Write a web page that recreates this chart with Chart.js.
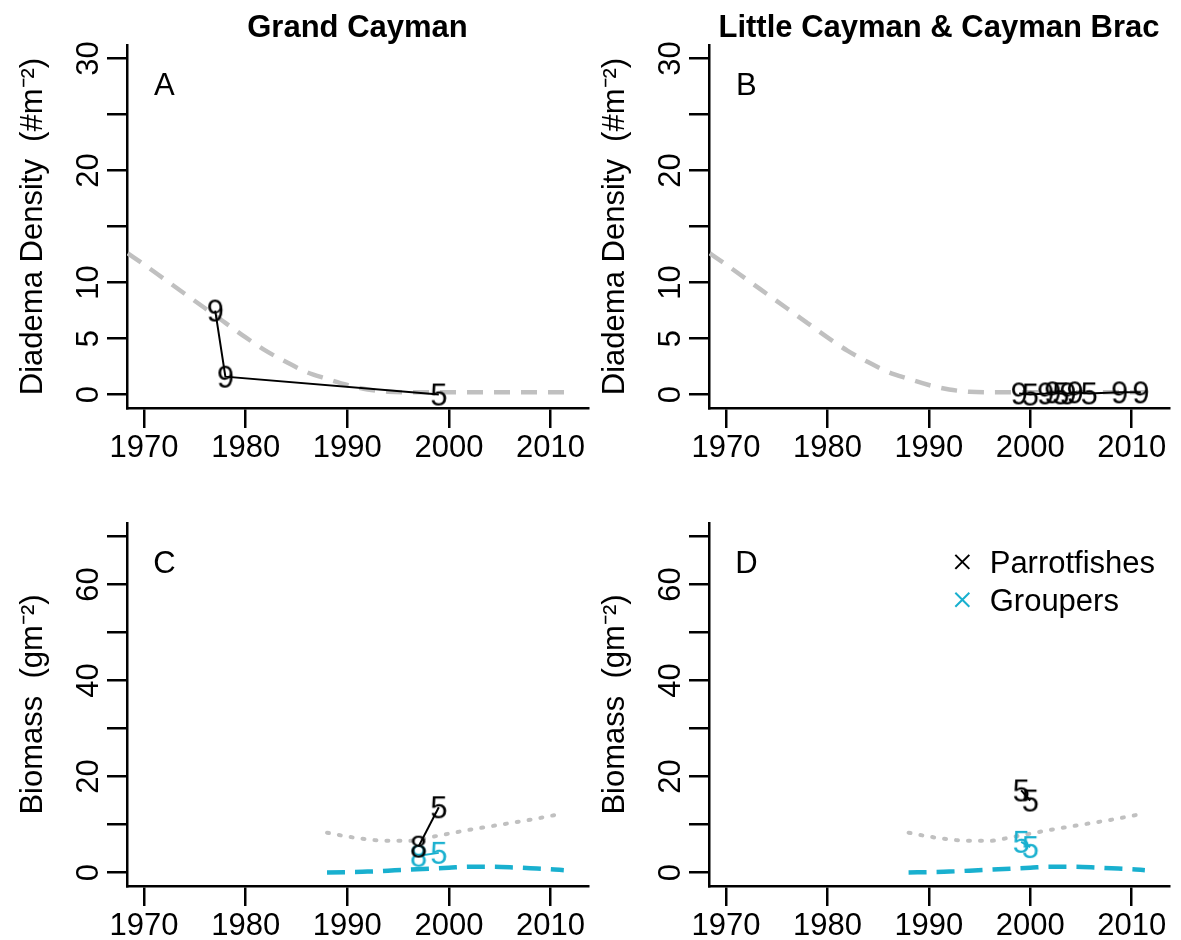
<!DOCTYPE html>
<html>
<head>
<meta charset="utf-8">
<title>Diadema density and fish biomass, Cayman Islands</title>
<script src="https://cdn.jsdelivr.net/npm/chart.js@4.4.1/dist/chart.umd.min.js"></script>
<style>
    body { margin: 0; background: #fff; }
    #figure { position: relative; width: 1181px; height: 940px; overflow: hidden; }
    #figure canvas { position: absolute; }
</style>
</head>
<body>
<div id="figure">
    <canvas id="panelA" width="600" height="478" style="left:0;top:0"></canvas>
    <canvas id="panelB" width="599" height="478" style="left:582px;top:0"></canvas>
    <canvas id="panelC" width="600" height="462" style="left:0;top:478px"></canvas>
    <canvas id="panelD" width="599" height="462" style="left:582px;top:478px"></canvas>
</div>
<script>
(function() {
    'use strict';

    // axes
    var yearLimits = [1970, 2012];
    var yearTicks = [1970, 1980, 1990, 2000, 2010];

    var densityLimits = [0, 30];
    var densityTicks = [0, 5, 10, 15, 20, 25, 30];
    var densityTickLabels = ['0', '5', '10', '', '20', '', '30'];

    var biomassLimits = [0, 70];
    var biomassTicks = [0, 10, 20, 30, 40, 50, 60, 70];
    var biomassTickLabels = ['0', '', '20', '', '40', '', '60', ''];

    // Diadema surveys (labels = number of sites)
    var gcDiademaYears = [1977, 1978, 1999];
    var gcDiademaDensity = [7.5, 1.6, 0.0];
    var gcDiademaSites = ['9', '9', '5'];

    var lcDiademaYears = [1998.9, 2000.0, 2001.5, 2002.2, 2003.0, 2003.7, 2004.4, 2005.8, 2008.8, 2010.9];
    var lcDiademaDensity = [0.1, 0.0, 0.1, 0.2, 0.1, 0.1, 0.2, 0.1, 0.2, 0.2];
    var lcDiademaSites = ['9', '5', '9', '9', '5', '9', '9', '5', '9', '9'];

    // fitted Diadema trend
    var diademaFitYears = [1968.4, 1970, 1972, 1974, 1976, 1978, 1980, 1982, 1984, 1986, 1988, 1990, 1992, 1994, 1996, 2012];
    var diademaFit = [12.6, 11.6, 10.3, 9.0, 7.7, 6.4, 5.1, 3.9, 2.9, 2.0, 1.4, 0.85, 0.45, 0.25, 0.2, 0.2];

    // fish biomass surveys
    var gcParrotYears = [1997, 1999];
    var gcParrotBiomass = [5.4, 13.6];
    var gcParrotSites = ['8', '5'];
    var gcGrouperYears = [1997, 1999];
    var gcGrouperBiomass = [3.5, 4.1];
    var gcGrouperSites = ['8', '5'];

    var lcParrotYears = [1999.1, 2000.0];
    var lcParrotBiomass = [17.1, 15.0];
    var lcParrotSites = ['5', '5'];
    var lcGrouperYears = [1999.1, 2000.0];
    var lcGrouperBiomass = [6.4, 5.3];
    var lcGrouperSites = ['5', '5'];

    // fitted biomass trends
    var parrotFitYears = [1988, 1990, 1992, 1994, 1996, 1998, 2000, 2002, 2004, 2006, 2008, 2010, 2011];
    var parrotFit = [8.3, 7.5, 6.9, 6.6, 6.6, 7.3, 8.1, 8.9, 9.6, 10.3, 11.0, 11.8, 12.2];
    var grouperFitYears = [1988, 1990, 1992, 1994, 1996, 1998, 2000, 2002, 2004, 2006, 2008, 2010, 2011.3];
    var grouperFit = [0.0, 0.1, 0.2, 0.4, 0.6, 0.8, 1.0, 1.2, 1.2, 1.1, 0.9, 0.7, 0.5];

    var FAMILY = '"Liberation Sans", Arial, Helvetica, sans-serif';
    var FONT_SIZE = 31;
    var CYAN = '#19b0cf';
    var GREY = '#c0c0c0';

    Chart.defaults.font.family = FAMILY;
    Chart.defaults.color = '#000';

    // plot region inside every canvas
    var AREA = { left: 127, top: 45, right: 596, bottom: 408 };

    function expand(lim) {
        var pad = (lim[1] - lim[0]) * 0.04;
        return [lim[0] - pad, lim[1] + pad];
    }

    function points(xs, ys) {
        return xs.map(function(x, i) { return { x: x, y: ys[i] }; });
    }

    // digits used as plotting symbols
    var glyphCache = {};
    function glyph(text, color) {
        var key = text + color;
        if (glyphCache[key]) return glyphCache[key];
        var c = document.createElement('canvas');
        c.width = 40;
        c.height = 40;
        var g = c.getContext('2d');
        g.font = FONT_SIZE + 'px ' + FAMILY;
        g.fillStyle = color;
        g.textAlign = 'center';
        g.textBaseline = 'alphabetic';
        g.fillText(text, 20, 20 + 0.358 * FONT_SIZE);
        glyphCache[key] = c;
        return c;
    }

    function surveySeries(xs, ys, labels, color, order) {
        return {
            data: points(xs, ys),
            borderColor: color,
            borderWidth: 2,
            pointStyle: labels.map(function(t) { return glyph(t, color); }),
            pointRadius: 12,
            pointBorderWidth: 0,
            tension: 0,
            order: order
        };
    }

    function trendSeries(xs, ys, color, dash, width, order) {
        return {
            data: points(xs, ys),
            borderColor: color,
            borderWidth: width,
            borderDash: dash,
            borderCapStyle: dash[0] < 5 ? 'round' : 'butt',
            pointRadius: 0,
            cubicInterpolationMode: 'monotone',
            order: order
        };
    }

    // panel letter and (optionally) the legend
    var panelNotes = {
        id: 'panelNotes',
        afterDatasetsDraw: function(chart, args, opts) {
            var ctx = chart.ctx;
            var xs = chart.scales.x;
            var ys = chart.scales.y;
            var capShift = 0.358 * FONT_SIZE;
            ctx.save();
            ctx.font = FONT_SIZE + 'px ' + FAMILY;
            ctx.textBaseline = 'alphabetic';
            ctx.fillStyle = '#000';
            ctx.textAlign = 'center';
            ctx.fillText(opts.letter, xs.getPixelForValue(1972), ys.getPixelForValue(opts.top * 0.925) + capShift);

            (opts.legend || []).forEach(function(item, i) {
                var cx = xs.getPixelForValue(1993.3);
                var cy = ys.getPixelForValue(64.7 - i * 7.9);
                ctx.strokeStyle = item.color;
                ctx.lineWidth = 2;
                ctx.beginPath();
                ctx.moveTo(cx - 7, cy - 7);
                ctx.lineTo(cx + 7, cy + 7);
                ctx.moveTo(cx + 7, cy - 7);
                ctx.lineTo(cx - 7, cy + 7);
                ctx.stroke();
                ctx.fillStyle = '#000';
                ctx.textAlign = 'left';
                ctx.fillText(item.label, xs.getPixelForValue(1996.0), cy + capShift);
            });
            ctx.restore();
        }
    };

    function buildPanel(id, spec) {
        var canvas = document.getElementById(id);
        var xr = expand(yearLimits);
        var yr = expand(spec.limits);

        return new Chart(canvas, {
            type: 'line',
            data: { datasets: spec.datasets },
            options: {
                responsive: false,
                animation: false,
                events: [],
                layout: {
                    padding: {
                        top: spec.title ? 0 : AREA.top,
                        right: canvas.width - AREA.right,
                        left: 0,
                        bottom: 0
                    }
                },
                plugins: {
                    legend: { display: false },
                    tooltip: { enabled: false },
                    title: {
                        display: !!spec.title,
                        text: spec.title || '',
                        fullSize: false,
                        color: '#000',
                        font: { size: FONT_SIZE, weight: 'bold', lineHeight: 1 },
                        padding: { top: 13, bottom: 1 }
                    },
                    panelNotes: { letter: spec.letter, top: spec.limits[1], legend: spec.legend }
                },
                scales: {
                    x: {
                        type: 'linear',
                        min: xr[0],
                        max: xr[1],
                        afterBuildTicks: function(axis) {
                            axis.ticks = yearTicks.map(function(v) { return { value: v }; });
                        },
                        afterFit: function(axis) {
                            axis.height = canvas.height - AREA.bottom;
                        },
                        border: { display: true, color: '#000', width: 2.5 },
                        grid: { drawOnChartArea: false, drawTicks: true, tickLength: 20, color: '#000', lineWidth: 2.5 },
                        ticks: {
                            autoSkip: false,
                            maxRotation: 0,
                            padding: 2,
                            color: '#000',
                            font: { size: FONT_SIZE },
                            callback: function(v) { return String(v); }
                        }
                    },
                    y: {
                        type: 'linear',
                        min: yr[0],
                        max: yr[1],
                        afterBuildTicks: function(axis) {
                            axis.ticks = spec.ticks.map(function(v) { return { value: v }; });
                        },
                        afterFit: function(axis) {
                            axis.width = AREA.left;
                        },
                        border: { display: true, color: '#000', width: 2.5 },
                        grid: { drawOnChartArea: false, drawTicks: true, tickLength: 20, color: '#000', lineWidth: 2.5 },
                        ticks: {
                            autoSkip: false,
                            minRotation: 90,
                            maxRotation: 90,
                            crossAlign: 'center',
                            padding: 0,
                            color: '#000',
                            font: { size: FONT_SIZE },
                            callback: function(v, i) { return spec.tickLabels[i]; }
                        },
                        title: {
                            display: true,
                            text: spec.yTitle,
                            color: '#000',
                            font: { size: FONT_SIZE, lineHeight: 1 },
                            padding: { top: 18, bottom: 0 }
                        }
                    }
                }
            },
            plugins: [panelNotes]
        });
    }

    var densityTitle = 'Diadema Density  (#m\u207B\u00B2)';
    var biomassTitle = 'Biomass  (gm\u207B\u00B2)';

    buildPanel('panelA', {
        title: 'Grand Cayman',
        letter: 'A',
        limits: densityLimits,
        ticks: densityTicks,
        tickLabels: densityTickLabels,
        yTitle: densityTitle,
        datasets: [
            surveySeries(gcDiademaYears, gcDiademaDensity, gcDiademaSites, '#000', 0),
            trendSeries(diademaFitYears, diademaFit, GREY, [16, 11], 4.5, 1)
        ]
    });

    buildPanel('panelB', {
        title: 'Little Cayman & Cayman Brac',
        letter: 'B',
        limits: densityLimits,
        ticks: densityTicks,
        tickLabels: densityTickLabels,
        yTitle: densityTitle,
        datasets: [
            surveySeries(lcDiademaYears, lcDiademaDensity, lcDiademaSites, '#000', 0),
            trendSeries(diademaFitYears, diademaFit, GREY, [16, 11], 4.5, 1)
        ]
    });

    buildPanel('panelC', {
        letter: 'C',
        limits: biomassLimits,
        ticks: biomassTicks,
        tickLabels: biomassTickLabels,
        yTitle: biomassTitle,
        datasets: [
            surveySeries(gcParrotYears, gcParrotBiomass, gcParrotSites, '#000', 0),
            surveySeries(gcGrouperYears, gcGrouperBiomass, gcGrouperSites, CYAN, 1),
            trendSeries(parrotFitYears, parrotFit, GREY, [2, 10], 4, 2),
            trendSeries(grouperFitYears, grouperFit, CYAN, [18, 10], 4.5, 2)
        ]
    });

    buildPanel('panelD', {
        letter: 'D',
        limits: biomassLimits,
        ticks: biomassTicks,
        tickLabels: biomassTickLabels,
        yTitle: biomassTitle,
        legend: [
            { label: 'Parrotfishes', color: '#000' },
            { label: 'Groupers', color: CYAN }
        ],
        datasets: [
            surveySeries(lcParrotYears, lcParrotBiomass, lcParrotSites, '#000', 0),
            surveySeries(lcGrouperYears, lcGrouperBiomass, lcGrouperSites, CYAN, 1),
            trendSeries(parrotFitYears, parrotFit, GREY, [2, 10], 4, 2),
            trendSeries(grouperFitYears, grouperFit, CYAN, [18, 10], 4.5, 2)
        ]
    });
})();
</script>
</body>
</html>
